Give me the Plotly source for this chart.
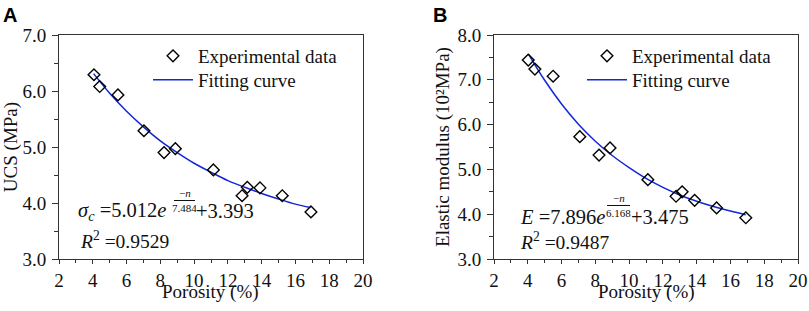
import plotly.graph_objects as go

# ---------------- data ----------------
# Panel A: UCS vs porosity
poro_a = [4.07, 4.41, 5.49, 7.03, 8.22, 8.89, 11.14, 12.84, 13.15, 13.90, 15.22, 16.92]
ucs_a = [6.29, 6.08, 5.93, 5.29, 4.90, 4.97, 4.59, 4.13, 4.28, 4.27, 4.13, 3.84]
fit_x_a = [4.05, 5, 6, 7, 8, 9, 10, 11, 12, 13, 14, 15, 16, 16.9]
fit_y_a = [6.31, 5.96, 5.64, 5.36, 5.11, 4.90, 4.71, 4.55, 4.40, 4.28, 4.17, 4.07, 3.98, 3.92]

# Panel B: elastic modulus vs porosity
poro_b = [4.03, 4.42, 5.50, 7.08, 8.22, 8.87, 11.11, 12.78, 13.14, 13.88, 15.18, 16.91]
mod_b = [7.44, 7.24, 7.08, 5.73, 5.32, 5.48, 4.77, 4.40, 4.50, 4.31, 4.14, 3.92]
fit_x_b = [4.05, 5, 6, 7, 8, 9, 10, 11, 12, 13, 14, 15, 16, 16.9]
fit_y_b = [7.57, 6.99, 6.46, 6.01, 5.63, 5.31, 5.04, 4.80, 4.60, 4.43, 4.29, 4.17, 4.07, 3.99]

x_range = [2, 20]
ya_range = [3, 7]
yb_range = [3, 8]

W, H = 809, 311
SERIF = "Liberation Serif"
BLUE = "#1028d8"
AX = "#333333"
TXT = "#111111"


def px(x):
    return x / W


def py(y):
    return 1 - y / H


fig = go.Figure()

marker_style = dict(symbol="diamond-open", size=9, color="black", line=dict(width=1.4))
line_style = dict(color=BLUE, width=1.5, shape="spline")

# Panel A traces
fig.add_trace(go.Scatter(x=fit_x_a, y=fit_y_a, mode="lines", line=line_style, showlegend=True,
                         name="Fitting curve", xaxis="x", yaxis="y", legend="legend2"))
fig.add_trace(go.Scatter(x=poro_a, y=ucs_a, mode="markers", marker=marker_style, showlegend=True,
                         name="Experimental data", xaxis="x", yaxis="y", legend="legend"))
# Panel B traces
fig.add_trace(go.Scatter(x=fit_x_b, y=fit_y_b, mode="lines", line=line_style, showlegend=True,
                         name="Fitting curve", xaxis="x2", yaxis="y2", legend="legend4"))
fig.add_trace(go.Scatter(x=poro_b, y=mod_b, mode="markers", marker=marker_style, showlegend=True,
                         name="Experimental data", xaxis="x2", yaxis="y2", legend="legend3"))

tickfont = dict(family=SERIF, size=19, color=TXT)
common_x = dict(range=x_range, dtick=2, tick0=0, showline=True, mirror=True, linecolor=AX, linewidth=1,
                ticks="outside", ticklen=4, tickwidth=1, tickcolor=AX, showgrid=False, zeroline=False,
                tickfont=tickfont, ticklabelstandoff=0, automargin=False,
                minor=dict(dtick=1, ticks="outside", ticklen=3, tickcolor=AX))
common_y = dict(dtick=1, tickformat=".1f", showline=True, mirror=True, linecolor=AX, linewidth=1,
                ticks="outside", ticklen=6, tickwidth=1, tickcolor=AX, showgrid=False, zeroline=False,
                tickfont=tickfont, ticklabelstandoff=2, automargin=False,
                minor=dict(dtick=0.5, ticks="outside", ticklen=4, tickcolor=AX))

leg_font = dict(family=SERIF, size=19, color=TXT)


def leg(xp, yp):
    return dict(x=px(xp), y=py(yp), xanchor="left", yanchor="middle", bgcolor="rgba(0,0,0,0)",
                font=leg_font, itemwidth=40, borderwidth=0, visible=True)


y_dom = [py(259), py(35)]
fig.update_layout(
    width=W, height=H, margin=dict(l=0, r=0, t=0, b=0, autoexpand=False),
    showlegend=True,
    font=dict(family=SERIF, color=TXT),
    paper_bgcolor="white", plot_bgcolor="white",
    xaxis=dict(domain=[px(59), px(363)], anchor="y", **common_x),
    yaxis=dict(domain=y_dom, anchor="x", range=ya_range,
               title=dict(text="UCS (MPa)", font=dict(family=SERIF, size=19, color=TXT), standoff=2),
               **common_y),
    xaxis2=dict(domain=[px(494), px(798)], anchor="y2", **common_x),
    yaxis2=dict(domain=y_dom, anchor="x2", range=yb_range,
                title=dict(text="Elastic modulus (10²MPa)", font=dict(family=SERIF, size=19, color=TXT), standoff=2),
                **common_y),
    legend=leg(148, 56),
    legend2=leg(148, 80),
    legend3=leg(582, 56),
    legend4=leg(582, 80),
)

ann = []
fnt = dict(family=SERIF, size=20.5, color=TXT)
rfnt = dict(family=SERIF, size=19.5, color=TXT)
tfnt = dict(family=SERIF, size=19, color=TXT)
sfnt = dict(family=SERIF, size=11, color=TXT)
# Panel letters
ann.append(dict(x=px(10), y=py(15), text="<b>A</b>", font=dict(family="Liberation Sans", size=20, color="black")))
ann.append(dict(x=px(440), y=py(15), text="<b>B</b>", font=dict(family="Liberation Sans", size=20, color="black")))
# x axis titles
ann.append(dict(x=px(211), y=py(292), text="Porosity (%)", font=tfnt))
ann.append(dict(x=px(646), y=py(292), text="Porosity (%)", font=tfnt))
# Panel A formula
ann.append(dict(x=px(77), y=py(211), xanchor="left", text="<i>σ<sub>c</sub></i> =5.012<i>e</i>", font=fnt))
ann.append(dict(x=px(185), y=py(200), yanchor="bottom", text="−<i>n</i>", font=sfnt))
ann.append(dict(x=px(184), y=py(201), yanchor="top", text="7.484", font=sfnt))
ann.append(dict(x=px(195), y=py(211), xanchor="left", text="+3.393", font=fnt))
ann.append(dict(x=px(79), y=py(240), xanchor="left", text="<i>R</i><sup>2</sup> =0.9529", font=rfnt))
# Panel B formula
ann.append(dict(x=px(519), y=py(217), xanchor="left", text="<i>E</i> =7.896<i>e</i>", font=fnt))
ann.append(dict(x=px(619), y=py(205), yanchor="bottom", text="−<i>n</i>", font=sfnt))
ann.append(dict(x=px(618), y=py(206), yanchor="top", text="6.168", font=sfnt))
ann.append(dict(x=px(630), y=py(217), xanchor="left", text="+3.475", font=fnt))
ann.append(dict(x=px(519), y=py(241), xanchor="left", text="<i>R</i><sup>2</sup> =0.9487", font=rfnt))
for a in ann:
    a.update(xref="paper", yref="paper", showarrow=False, borderpad=0)
    a.setdefault("xanchor", "center")
    a.setdefault("yanchor", "middle")
fig.update_layout(annotations=ann)

# fraction bars
fig.update_layout(shapes=[
    dict(type="line", xref="paper", yref="paper", x0=px(174), x1=px(195), y0=py(200.5), y1=py(200.5),
         line=dict(color=TXT, width=1)),
    dict(type="line", xref="paper", yref="paper", x0=px(607), x1=px(630), y0=py(205.5), y1=py(205.5),
         line=dict(color=TXT, width=1)),
])

fig.write_html("out.html", config={"displayModeBar": False},
               post_script="document.body.style.margin='0';document.body.style.overflow='hidden';")
